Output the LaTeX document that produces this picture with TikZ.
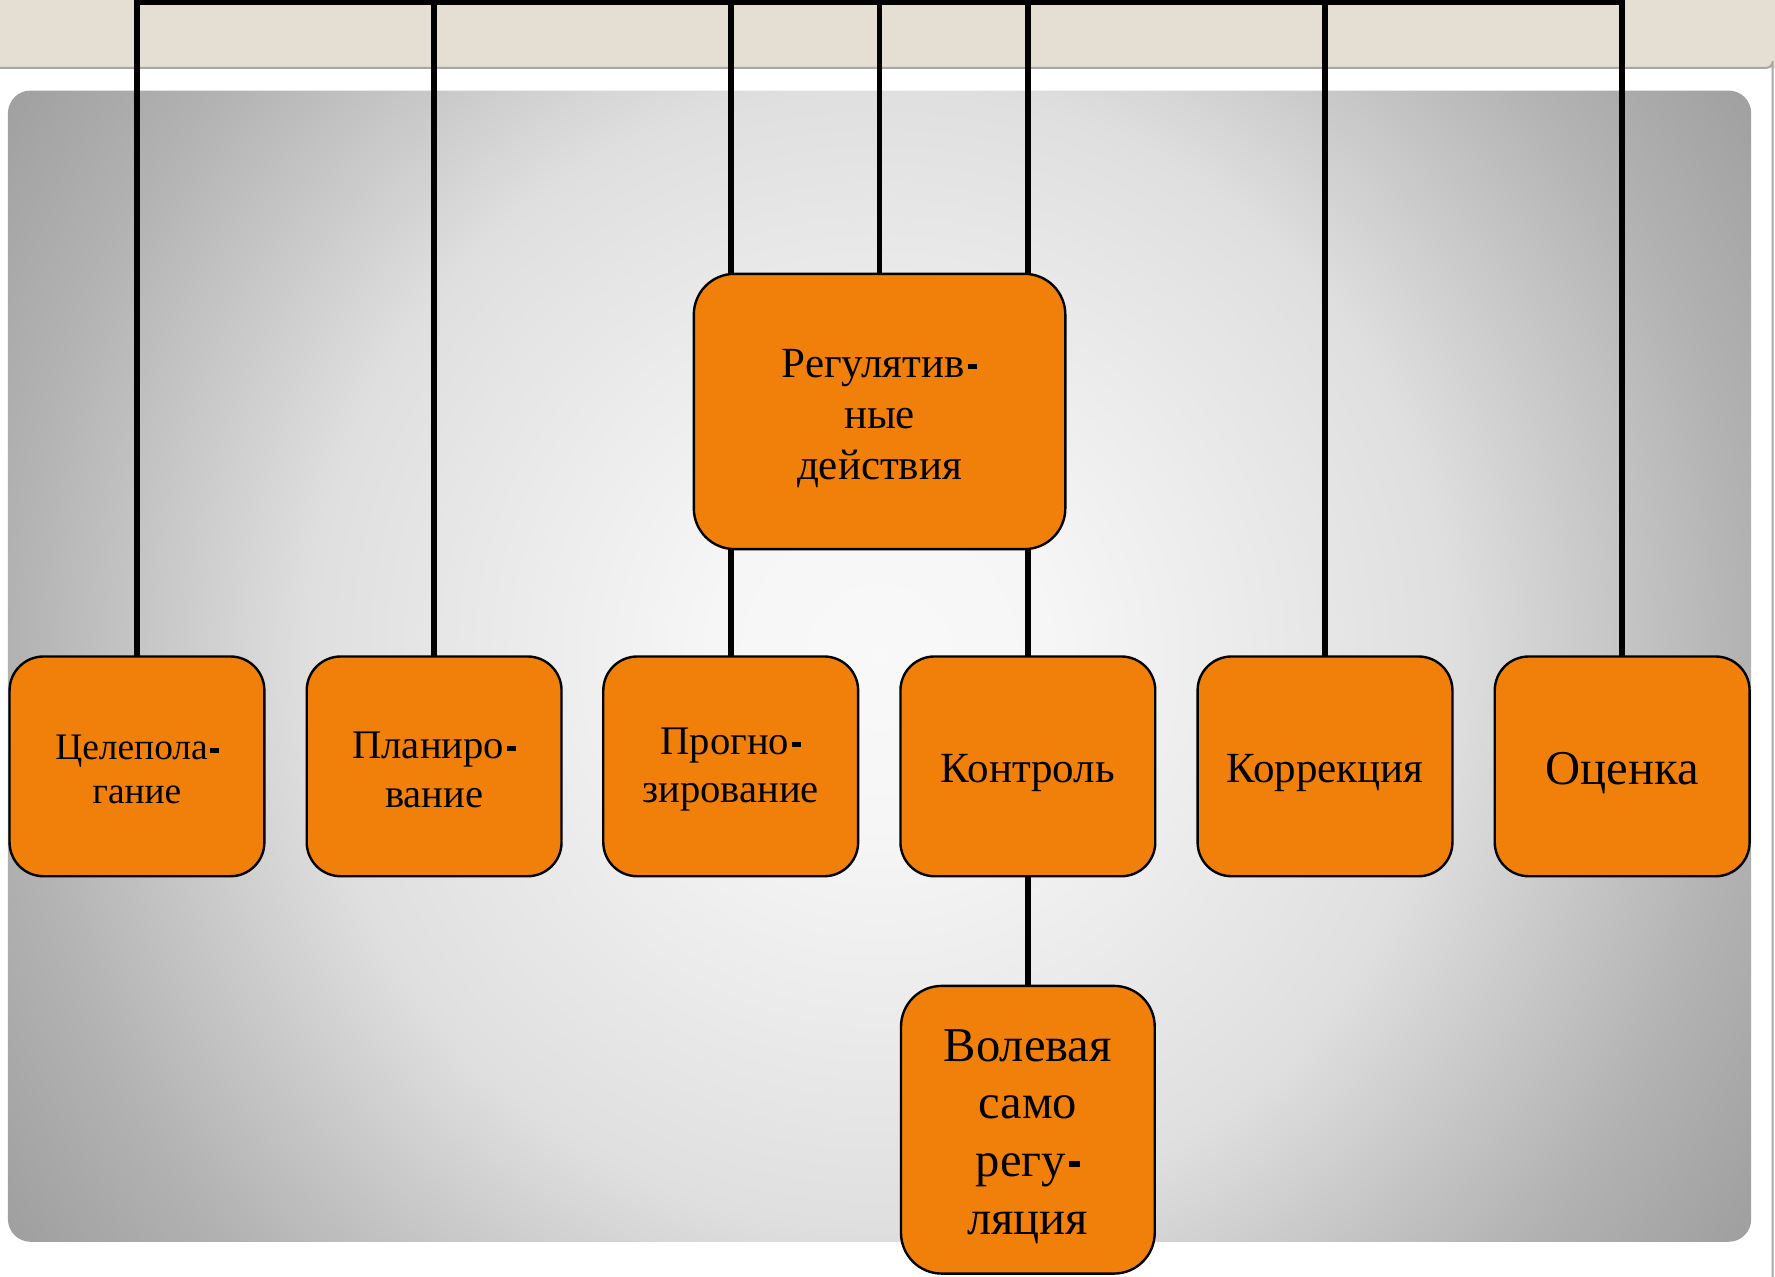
\documentclass[tikz,border=0pt]{standalone}
\usepackage{fontspec}
\setmainfont{Liberation Serif}
\usetikzlibrary{calc}
\definecolor{beige}{RGB}{228,222,211}
\definecolor{boxorange}{RGB}{240,128,10}
\definecolor{slideline}{RGB}{168,168,168}
\pgfdeclareradialshading{panelshade}{\pgfpoint{0bp}{0bp}}{rgb(0bp)=(0.975,0.975,0.975); rgb(4bp)=(0.965,0.965,0.965); rgb(13.6bp)=(0.875,0.875,0.875); rgb(17bp)=(0.79,0.79,0.79); rgb(20.7bp)=(0.70,0.70,0.70); rgb(24.3bp)=(0.635,0.635,0.635); rgb(25bp)=(0.625,0.625,0.625); rgb(50bp)=(0.625,0.625,0.625)}
\pgfdeclarelayer{back}
\pgfdeclarelayer{lines}
\pgfsetlayers{back,lines,main}
\tikzset{
  obox/.style={draw=black, line width=0.6pt, fill=boxorange, rounded corners=0.3cm,
    minimum width=2.25cm, minimum height=1.94cm, inner sep=0pt, outer sep=0pt, align=center},
  conn/.style={draw=black, line width=1.45pt},
  fa/.style={font=\fontsize{9.4}{11.1}\selectfont},
  fb/.style={font=\fontsize{10.2}{12.2}\selectfont},
  fc/.style={font=\fontsize{10.8}{12.8}\selectfont},
  fd/.style={font=\fontsize{12.2}{14.5}\selectfont},
}
\newcommand{\hy}{\hspace{0.07em}\rule[0.19em]{0.22em}{0.125em}}
\newcommand{\tp}{\rule{0pt}{\dimexpr0.66em+3.4pt\relax}}
\newcommand{\tpb}{\rule{0pt}{\dimexpr0.66em+1.6pt\relax}}
\begin{document}
\begin{tikzpicture}[x=0.01cm, y=-0.01cm]
\useasboundingbox (0,0) rectangle (1568,1128);
% nodes
\node[obox, fa] (n1) at (121,677) {\tpb Целепола\hy\\гание};
\node[obox, fb] (n2) at (383.5,677) {\tpb Планиро\hy\\вание};
\node[obox, fb] (n3) at (645.5,677) {\tpb Прогно\hy\\зирование};
\node[obox, fc] (n4) at (908,677) {\tp Контроль};
\node[obox, fc] (n5) at (1170.5,677) {\tp Коррекция};
\node[obox, fd] (n6) at (1433,677) {\tp Оценка};
\node[obox, fc, minimum width=3.28cm, minimum height=2.43cm, rounded corners=0.36cm] (reg) at (777,363.5) {\tp Регулятив\hy\\ные\\действия};
\node[obox, fd, minimum width=2.24cm, minimum height=2.54cm, rounded corners=0.36cm] (vol) at (908,998) {\tp Волевая\\само\\регу\hy\\ляция};
\coordinate (topbar) at (0,1.5);
\coordinate (pc) at (777,580);
% background
\begin{pgfonlayer}{back}
\fill[white] (0,0) rectangle (1568,1128);
\fill[beige] (0,0) rectangle (1568,60);
\draw[slideline, line width=0.5pt] (0,60) -- (1560,60) arc[start angle=90, end angle=0, radius=6] -- (1566,1128);
\begin{scope}
\clip[rounded corners=0.2cm] (7,80) rectangle (1547,1097);
\shade[shading=panelshade] ($(pc)+(-925,-925)$) rectangle ($(pc)+(925,925)$);
\end{scope}
\end{pgfonlayer}
% connectors
\begin{pgfonlayer}{lines}
\draw[conn] (n1.north) |- (n6.north |- topbar) -- (n6.north);
\draw[conn] (n2.north) -- (n2.north |- topbar);
\draw[conn] (n3.north) -- (n3.north |- topbar);
\draw[conn] (n4.north) -- (n4.north |- topbar);
\draw[conn] (reg.north) -- (reg.north |- topbar);
\draw[conn] (n5.north) -- (n5.north |- topbar);
\draw[conn] (n4.south) -- (vol.north);
\end{pgfonlayer}
\end{tikzpicture}
\end{document}
